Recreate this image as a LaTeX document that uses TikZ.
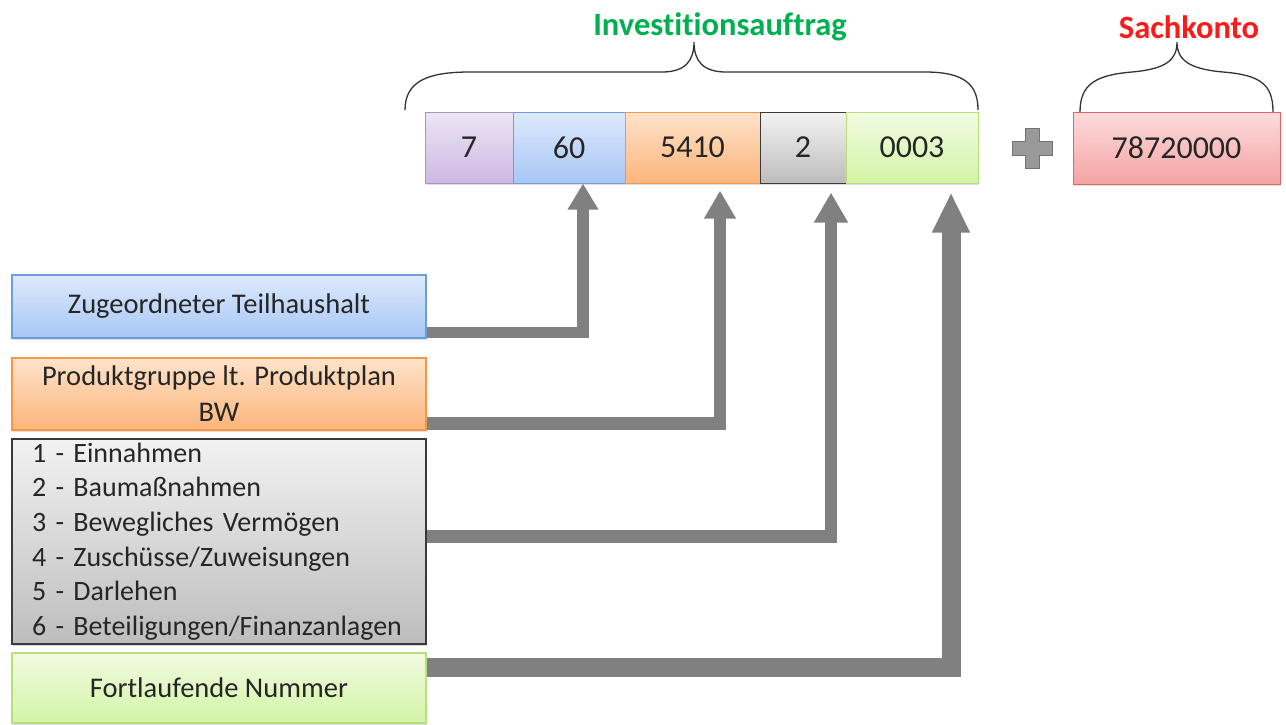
\documentclass[tikz,border=0pt]{standalone}
\usepackage{fontspec}
\setmainfont[Ligatures=NoCommon]{Carlito}
\usetikzlibrary{arrows.meta,shadows}
\definecolor{lilaTop}{HTML}{EDE5F5}
\definecolor{lilaBot}{HTML}{CDB9E3}
\definecolor{lilaRand}{HTML}{A993C9}
\definecolor{blauTop}{HTML}{DDEAFD}
\definecolor{blauBot}{HTML}{A7C6F5}
\definecolor{blauRand}{HTML}{6E9DDE}
\definecolor{orangeTop}{HTML}{FEE3CB}
\definecolor{orangeBot}{HTML}{FBB57A}
\definecolor{orangeRand}{HTML}{F79646}
\definecolor{grauTop}{HTML}{F2F2F2}
\definecolor{grauBot}{HTML}{BDBDBD}
\definecolor{grauRand}{HTML}{3A3A3A}
\definecolor{gruenTop}{HTML}{F1FBE2}
\definecolor{gruenBot}{HTML}{D3F4A6}
\definecolor{gruenRand}{HTML}{B5E07C}
\definecolor{rotTop}{HTML}{FDDCDC}
\definecolor{rotBot}{HTML}{F4A3A3}
\definecolor{rotRand}{HTML}{E06666}
\definecolor{pfeil}{HTML}{808080}
\definecolor{invGruen}{HTML}{00B050}
\definecolor{sachRot}{HTML}{FF1A1A}
\definecolor{schrift}{HTML}{262626}

\tikzset{
  feld/.style={draw, line width=1pt, minimum height=71pt, inner sep=0pt, text=schrift,
    font=\fontsize{32}{38}\selectfont,
    drop shadow={shadow xshift=1pt, shadow yshift=-2pt, opacity=0.25}},
  lbox/.style={draw, line width=1.2pt, minimum width=414pt, inner sep=0pt, align=center, text=schrift,
    font=\fontsize{28.5}{36}\selectfont,
    drop shadow={shadow xshift=1pt, shadow yshift=-2pt, opacity=0.25}},
  klammer/.style={line width=1.3pt, draw=black!80},
  zuordnung/.style={draw=pfeil, line width=12.5pt, -{Triangle[width=30pt,length=28pt]}},
}

\begin{document}
\begin{tikzpicture}[x=1pt, y=-1pt]
		%%%%% START %%%%%
		\useasboundingbox (0,0) rectangle (1286,724);
		
		\node[feld, minimum width=88pt, draw=lilaRand, top color=lilaTop, bottom color=lilaBot] (n7) at (469,147.5) {7};
		\node[feld, minimum width=112pt, draw=blauRand, top color=blauTop, bottom color=blauBot] (n60) at (569,147.5) {60};
		\node[feld, minimum width=135pt, draw=orangeRand, top color=orangeTop, bottom color=orangeBot] (n5410) at (692.5,147.5) {5410};
		\node[feld, minimum width=86pt, draw=grauRand, top color=grauTop, bottom color=grauBot] (n2) at (803,147.5) {2};
		\node[feld, minimum width=132pt, draw=gruenRand, top color=gruenTop, bottom color=gruenBot] (n0003) at (912,147.5) {0003};
		
		\draw[fill=pfeil!80, draw=pfeil!110] (1025,128) -- (1039,128) -- (1039,141) -- (1052,141) -- (1052,155) -- (1039,155) -- (1039,168) -- (1025,168) -- (1025,155) -- (1012,155) -- (1012,141) -- (1025,141) -- cycle;
		
		\node[feld, minimum width=207pt, minimum height=72pt, draw=rotRand, top color=rotTop, bottom color=rotBot] (sach) at (1176.5,148) {78720000};
		
		\draw[klammer] (405,110) .. controls (405,80) and (430,72) .. (470,72) -- (662,72) .. controls (686,72) and (694,60) .. (694,42) .. controls (694,60) and (702,72) .. (726,72) -- (925,72) .. controls (965,72) and (978,85) .. (978,110);
		\draw[klammer] (1080,112) .. controls (1080,84) and (1096,75) .. (1132,72) .. controls (1166,69) and (1177,60) .. (1177,42) .. controls (1177,60) and (1189,69) .. (1223,72) .. controls (1260,75) and (1273,84) .. (1273,112);
		
		\node[text=invGruen, font=\fontsize{32.5}{36}\selectfont\bfseries] (invlabel) at (720,27) {Investitionsauftrag};
		\node[text=sachRot, font=\fontsize{32.5}{36}\selectfont\bfseries] (sachlabel) at (1189,27) {Sachkonto};
		
		\node[lbox, minimum height=63pt, draw=blauRand, top color=blauTop, bottom color=blauBot] (teil) at (219,306.5) {Zugeordneter Teilhaushalt};
		\node[lbox, minimum height=72pt, draw=orangeRand, top color=orangeTop, bottom color=orangeBot] (prod) at (219,394) {Produktgruppe lt. Produktplan\\BW};
		\node[lbox, minimum height=205pt, draw=grauRand, top color=grauTop, bottom color=grauBot, align=left, text width=374pt, inner xsep=20pt, font=\fontsize{28}{34.6}\selectfont] (art) at (219,541.5) {1 - Einnahmen\\2 - Baumaßnahmen\\3 - Bewegliches Vermögen\\4 - Zuschüsse/Zuweisungen\\5 - Darlehen\\6 - Beteiligungen/Finanzanlagen};
		\node[lbox, minimum height=70pt, draw=gruenRand, top color=gruenTop, bottom color=gruenBot] (fort) at (219,688) {Fortlaufende Nummer};
		
		\draw[zuordnung, line width=11.5pt, -{Triangle[width=29pt,length=26pt]}] ([yshift=-26pt]teil.east) -| ([xshift=14pt]n60.south);
		\draw[zuordnung, shorten >=7pt] ([yshift=-29.5pt]prod.east) -| ([xshift=27.5pt]n5410.south);
		\draw[zuordnung, shorten >=9pt, -{Triangle[width=32pt,length=30pt]}] ([yshift=5pt]art.east) -| ([xshift=28pt]n2.south);
		\draw[zuordnung, line width=19pt, shorten >=9pt, -{Triangle[width=35pt,length=40pt]}] ([yshift=20.5pt]fort.east) -| ([xshift=39pt]n0003.south);
		%%%%% END %%%%%
	\end{tikzpicture}
\end{document}
